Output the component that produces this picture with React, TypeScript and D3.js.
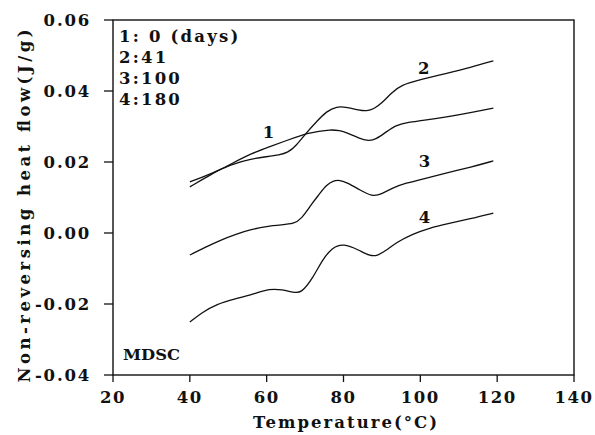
import React from "react";
import * as d3 from "d3";

const xTicks = [20, 40, 60, 80, 100, 120, 140];
const yTicks = [-0.04, -0.02, 0.0, 0.02, 0.04, 0.06];

const curve1: [number, number][] = [
  [40, 0.013], [45, 0.0162], [51, 0.0196], [56, 0.0224], [61, 0.0244], [65, 0.026],
  [68, 0.0271], [70.3, 0.028], [73.7, 0.0287], [76.4, 0.0291], [79, 0.0289], [81, 0.0282],
  [84, 0.0267], [86.5, 0.0259], [88.5, 0.0264], [91, 0.0284], [93.8, 0.0305], [97, 0.0312],
  [100, 0.0316], [107, 0.0327], [113, 0.0339], [119, 0.0352],
];
const curve2: [number, number][] = [
  [40, 0.0144], [45, 0.0164], [51, 0.0195], [56, 0.0209], [60, 0.0215], [63.3, 0.022],
  [65.5, 0.0226], [67.7, 0.0246], [70.3, 0.0282], [73, 0.0314], [75.6, 0.0343], [78.2, 0.0357],
  [81, 0.0354], [84, 0.0346], [86, 0.0343], [88, 0.035], [90, 0.0366], [92.5, 0.0395],
  [95, 0.0417], [100, 0.0432], [107, 0.045], [113, 0.0466], [119, 0.0485],
];
const curve3: [number, number][] = [
  [40, -0.0062], [44, -0.004], [48, -0.002], [52, -0.0003], [56, 0.001], [60, 0.0019],
  [64, 0.0023], [67, 0.0026], [69, 0.0038], [71.9, 0.0085], [73.7, 0.0109], [75.5, 0.0135],
  [77.5, 0.0148], [79, 0.0149], [81, 0.0142], [84, 0.0123], [87.5, 0.0102], [90, 0.011],
  [93, 0.0128], [96, 0.014], [100, 0.015], [106, 0.0167], [113, 0.0185], [119, 0.0203],
];
const curve4: [number, number][] = [
  [40, -0.0251], [43, -0.0225], [47, -0.02], [52, -0.0185], [56, -0.0174], [61, -0.0156],
  [64, -0.016], [67, -0.0167], [69, -0.017], [72, -0.0127], [74.5, -0.0076], [77, -0.0041],
  [80, -0.0029], [84, -0.0048], [87, -0.0066], [89, -0.0063], [91, -0.005], [94, -0.0025],
  [98, -0.0003], [102.4, 0.0014], [107, 0.0026], [113, 0.004], [119, 0.0056],
];
const series = [curve1, curve2, curve3, curve4];

const curveLabels = ["1", "2", "3", "4"];
const labelPos: [number, number][] = [[60.5, 0.0285], [100.9, 0.0465], [101.1, 0.0203], [101.1, 0.0045]];
const legendLines = ["1: 0 (days)", "2:41", "3:100", "4:180"];

const W = 595, H = 435;
const M = { left: 113, right: 574, top: 20, bottom: 375 };
const FONT = "'DejaVu Serif', serif";

export default function App() {
  const x = d3.scaleLinear().domain([20, 140]).range([M.left, M.right]);
  const y = d3.scaleLinear().domain([-0.04, 0.06]).range([M.bottom, M.top]);
  const line = d3
    .line<[number, number]>()
    .x((d) => x(d[0]))
    .y((d) => y(d[1]))
    .curve(d3.curveBasis);

  const fmtY = (v: number) => (v < 0 ? "-" : "") + Math.abs(v).toFixed(2);

  return (
    <svg width={W} height={H} style={{ position: "absolute", left: 0, top: 0, background: "#fff" }}
      fontFamily={FONT} fontWeight="bold">
      <rect x={0} y={0} width={W} height={H} fill="#fff" />
      <rect x={M.left} y={M.top} width={M.right - M.left} height={M.bottom - M.top}
        fill="none" stroke="#111" strokeWidth={1.4} />
      {xTicks.map((t) => (
        <g key={"x" + t}>
          <line x1={x(t)} x2={x(t)} y1={M.bottom} y2={M.bottom + 7} stroke="#111" strokeWidth={1.3} />
          <text x={x(t)} y={M.bottom + 28} textAnchor="middle" fontSize={16.5} letterSpacing={1.5} fill="#111">
            {t}
          </text>
        </g>
      ))}
      {yTicks.map((v) => (
        <g key={"y" + v}>
          <line x1={M.left - 9} x2={M.left} y1={y(v)} y2={y(v)} stroke="#111" strokeWidth={1.3} />
          <text x={M.left - 22} y={y(v) + 6} textAnchor="end" fontSize={16.5} letterSpacing={1.8} fill="#111">
            {fmtY(v)}
          </text>
        </g>
      ))}
      {series.map((s, i) => (
        <path key={"s" + i} d={line(s) || ""} fill="none" stroke="#111" strokeWidth={1.3} />
      ))}
      {labelPos.map((p, i) => (
        <text key={"l" + i} x={x(p[0])} y={y(p[1]) + 6} textAnchor="middle" fontSize={16.5} fill="#111">
          {curveLabels[i]}
        </text>
      ))}
      {legendLines.map((s, i) => (
        <text key={"g" + i} x={119} y={42 + i * 21} fontSize={16.5} letterSpacing={2.2} fill="#111"
          style={{ whiteSpace: "pre" }}>
          {s}
        </text>
      ))}
      <text x={123} y={360} fontSize={15.5} fill="#111" textLength={57} lengthAdjust="spacingAndGlyphs">MDSC</text>
      <text x={345} y={428} textAnchor="middle" fontSize={16.5} fill="#111" textLength={184} lengthAdjust="spacing">
        Temperature(°C)
      </text>
      <text transform="translate(30,206) rotate(-90)" textAnchor="middle" fontSize={16.5} fill="#111"
        textLength={353} lengthAdjust="spacing">
        Non-reversing heat flow(J/g)
      </text>
    </svg>
  );
}
